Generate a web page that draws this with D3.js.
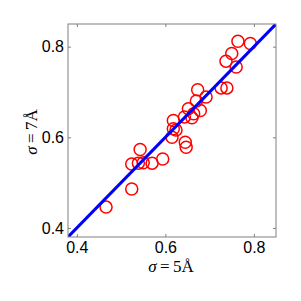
<!DOCTYPE html>
<html>
<head>
<meta charset="utf-8">
<script src="https://cdn.jsdelivr.net/npm/d3@7"></script>
<style>
  body { margin: 0; background: #fff; }
  svg { display: block; }
</style>
</head>
<body>
<div id="viz"></div>
<script>
// values: sigma=5A (x) against sigma=7A (y)
var xVals = [0.466, 0.524, 0.524, 0.539, 0.543, 0.550, 0.570, 0.594, 0.615, 0.618,
             0.624, 0.618, 0.645, 0.647, 0.643, 0.652, 0.660, 0.664, 0.670, 0.679,
             0.673, 0.692, 0.726, 0.739, 0.737, 0.750, 0.760, 0.764, 0.792];
var yVals = [0.446, 0.486, 0.541, 0.543, 0.573, 0.544, 0.543, 0.552, 0.600, 0.619,
             0.616, 0.637, 0.589, 0.578, 0.645, 0.663, 0.643, 0.652, 0.680, 0.659,
             0.705, 0.689, 0.709, 0.709, 0.768, 0.785, 0.755, 0.812, 0.807];
var tickVals = [0.4, 0.6, 0.8];
var domainLo = 0.38, domainHi = 0.85;

var W = 301, H = 301;
var margin = {left: 68, top: 24, right: 25, bottom: 64};

var svg = d3.select('#viz').append('svg')
	.attr('width', W)
	.attr('height', H);

var x = d3.scaleLinear()
	.domain([domainLo, domainHi])
	.range([margin.left, W - margin.right]);

var y = d3.scaleLinear()
	.domain([domainLo, domainHi])
	.range([H - margin.bottom, margin.top]);

// clip for the data area
svg.append('clipPath').attr('id', 'plotclip')
	.append('rect')
	.attr('x', margin.left).attr('y', margin.top)
	.attr('width', W - margin.left - margin.right)
	.attr('height', H - margin.top - margin.bottom);

var plot = svg.append('g').attr('clip-path', 'url(#plotclip)');

// red open circles
var pts = d3.range(xVals.length);
plot.selectAll('circle')
	.data(pts).enter()
	.append('circle')
	.attr('cx', function(i) { return x(xVals[i]); })
	.attr('cy', function(i) { return y(yVals[i]); })
	.attr('r', 6)
	.attr('style', 'fill: none; stroke: #ff0000; stroke-width: 1.5px;');

// y = x reference line on top
var line = d3.line()
	.x(function(d) { return x(d); })
	.y(function(d) { return y(d); });

plot.append('path')
	.datum([domainLo, domainHi])
	.attr('d', line)
	.attr('style', 'fill: none; stroke: #0000ff; stroke-width: 3px;');

// axes: ticks inside, on all four sides
var axisStyle = function(g) {
	g.select('.domain').remove();
	g.selectAll('.tick line').attr('stroke', '#808080');
	g.selectAll('.tick text')
		.attr('fill', '#000')
		.attr('style', 'font-family: "Liberation Sans", Arial, sans-serif; font-size: 16px;');
};

svg.append('g')
	.attr('transform', 'translate(0,' + (H - margin.bottom) + ')')
	.call(d3.axisBottom(x).tickValues(tickVals).tickFormat(d3.format('.1f')).tickSizeInner(-3).tickPadding(5))
	.call(axisStyle);

svg.append('g')
	.attr('transform', 'translate(0,' + margin.top + ')')
	.call(d3.axisTop(x).tickValues(tickVals).tickFormat('').tickSizeInner(-3))
	.call(axisStyle);

svg.append('g')
	.attr('transform', 'translate(' + margin.left + ',0)')
	.call(d3.axisLeft(y).tickValues(tickVals).tickFormat(d3.format('.1f')).tickSizeInner(-3).tickPadding(4))
	.call(axisStyle);

svg.append('g')
	.attr('transform', 'translate(' + (W - margin.right) + ',0)')
	.call(d3.axisRight(y).tickValues(tickVals).tickFormat('').tickSizeInner(-3))
	.call(axisStyle);

// frame
svg.append('rect')
	.attr('x', margin.left).attr('y', margin.top)
	.attr('width', W - margin.left - margin.right)
	.attr('height', H - margin.top - margin.bottom)
	.attr('style', 'fill: none; stroke: #808080; stroke-width: 1px;');

// axis labels
function sigmaLabel(g, num) {
	var t = g.append('text')
		.attr('text-anchor', 'middle')
		.attr('style', 'font-family: "Liberation Serif", "Times New Roman", serif; font-size: 17px; fill: #000;');
	t.append('tspan').attr('font-style', 'italic').text('σ');
	t.append('tspan').text('\u2009=\u2009' + num + 'Å');
	return t;
}

sigmaLabel(svg.append('g').attr('transform', 'translate(171,272)'), '5');
sigmaLabel(svg.append('g').attr('transform', 'translate(37,132) rotate(-90)'), '7');
</script>
</body>
</html>
